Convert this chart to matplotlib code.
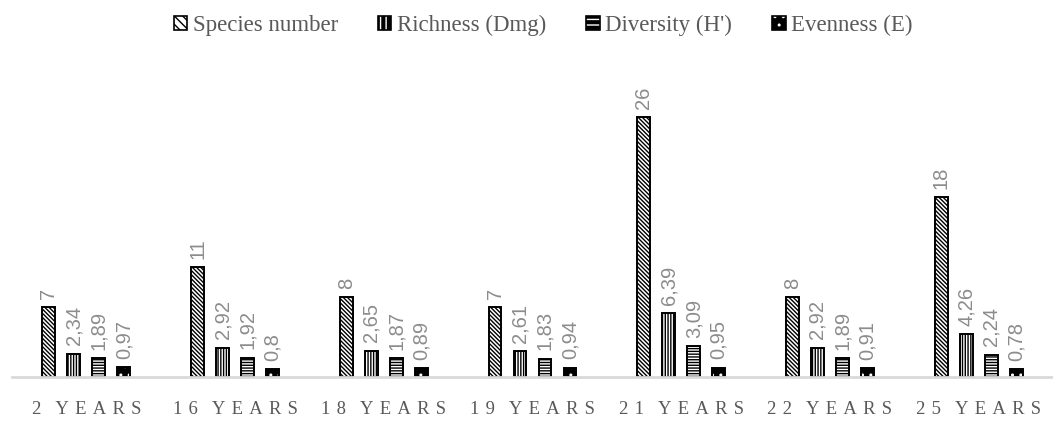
import numpy as np
import matplotlib.pyplot as plt
from matplotlib.patches import Patch

groups = ["2 YEARS", "16 YEARS", "18 YEARS", "19 YEARS", "21 YEARS", "22 YEARS", "25 YEARS"]
species = [7, 11, 8, 7, 26, 8, 18]
richness = [2.34, 2.92, 2.65, 2.61, 6.39, 2.92, 4.26]
diversity = [1.89, 1.92, 1.87, 1.83, 3.09, 1.89, 2.24]
evenness = [0.97, 0.8, 0.89, 0.94, 0.95, 0.91, 0.78]
series_names = ["Species number", "Richness (Dmg)", "Diversity (H')", "Evenness (E)"]

plt.rcParams['hatch.linewidth'] = 1.0

fig = plt.figure(figsize=(10.53, 4.26), dpi=100)
ax = fig.add_axes([0.0114, 0.115, 0.9886, 0.704])

x = np.arange(len(groups))
w = 0.087
step = 0.168
offsets = [-1.5 * step, -0.5 * step, 0.5 * step, 1.5 * step]

def fmt(v):
    return ("%g" % v).replace(".", ",")

data = [species, richness, diversity, evenness]
for i, vals in enumerate(data):
    pos = x + offsets[i]
    if i == 0:
        ax.bar(pos, vals, w, facecolor="white", edgecolor="black", hatch="\\\\\\\\\\\\\\\\", linewidth=0)
    elif i == 1:
        ax.bar(pos, vals, w, facecolor="white", edgecolor="black", hatch="||||||", linewidth=0)
    elif i == 2:
        ax.bar(pos, vals, w, facecolor="white", edgecolor="black", hatch="------", linewidth=0)
    else:
        # black bar with white dots
        ax.bar(pos, vals, w, facecolor="black", edgecolor="white", hatch="..", linewidth=0)
    ax.bar(pos, vals, w, fill=False, edgecolor="black", linewidth=1.4)
    for p, v in zip(pos, vals):
        ax.annotate(fmt(v), (p, v), xytext=(0, 6), textcoords="offset points",
                    rotation=90, ha="center", va="bottom", fontsize=14.5,
                    color="#8c8c8c", family="Liberation Sans")

ax.set_xlim(-0.5, len(groups) - 0.5)
ax.set_ylim(0, 30)
for s in ["top", "right", "left"]:
    ax.spines[s].set_visible(False)
ax.spines["bottom"].set_color("#d9d9d9")
ax.spines["bottom"].set_linewidth(2)
ax.set_yticks([])
ax.set_xticks(x)


def spread(label):
    # widen the letter spacing of the category names
    words = ["\u2004".join(wd) for wd in label.split(" ")]
    return "\u2005\u2002".join(words)


ax.set_xticklabels([spread(g) for g in groups], family=["Liberation Serif", "DejaVu Serif"],
                   fontsize=13.4, color="#595959")
ax.tick_params(axis="x", length=0, pad=17)

handles = [
    Patch(facecolor="white", edgecolor="black", hatch="\\\\\\\\", label=series_names[0]),
    Patch(facecolor="black", edgecolor="black", hatch="|||", label=series_names[1]),
    Patch(facecolor="black", edgecolor="black", hatch="---", label=series_names[2]),
    Patch(facecolor="black", edgecolor="black", hatch="..", label=series_names[3]),
]
leg = fig.legend(handles=handles, loc="center", bbox_to_anchor=(0.516, 0.94), ncol=4,
                 frameon=False, prop={"family": "Liberation Serif", "size": 16.5},
                 labelcolor="#595959", handlelength=0.57, handleheight=0.57,
                 handletextpad=0.26, columnspacing=1.75)
for p in leg.get_patches():
    p.set_linewidth(1.2)
    if p.get_facecolor()[0] < 0.5:
        p._hatch_color = (1, 1, 1, 1)

fig.savefig("out.png", dpi=100)
